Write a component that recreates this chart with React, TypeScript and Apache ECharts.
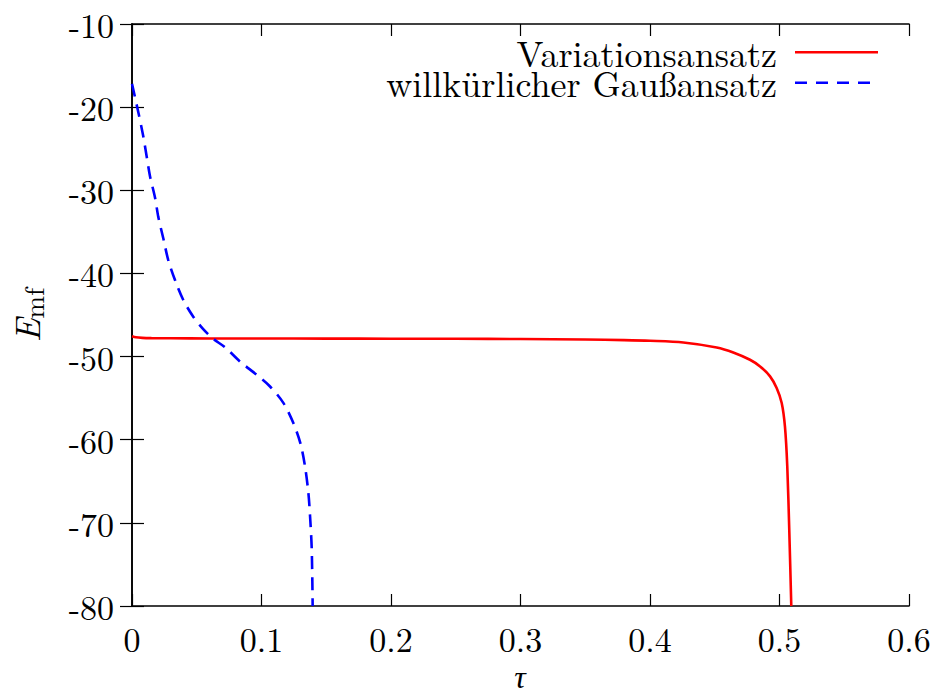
import React, { useEffect, useRef } from "react";
import * as echarts from "echarts";

// Variationsansatz (red, solid)
const tauVar = [0, 0.003, 0.008, 0.015, 0.03, 0.06, 0.1, 0.15, 0.2, 0.25, 0.3, 0.35, 0.38, 0.4, 0.4257, 0.4515, 0.4643, 0.4772, 0.485, 0.4927, 0.4978, 0.5017, 0.5042, 0.506, 0.5076, 0.5091];
const eVar = [-47.55, -47.68, -47.75, -47.78, -47.8, -47.82, -47.83, -47.84, -47.85, -47.86, -47.89, -47.95, -48.02, -48.1, -48.3, -48.9, -49.5, -50.38, -51.18, -52.38, -53.78, -55.58, -58.4, -63.2, -71.2, -80.0];

// willkürlicher Gaußansatz (blue, dashed)
const tauGauss = [0, 0.005, 0.0087, 0.0113, 0.0139, 0.0178, 0.0203, 0.0242, 0.028, 0.0332, 0.0396, 0.0473, 0.055, 0.0627, 0.072, 0.0834, 0.0963, 0.1066, 0.117, 0.1246, 0.13, 0.1336, 0.1362, 0.1375, 0.1388, 0.1395];
const eGauss = [-17.2, -20.7, -23.5, -25.9, -28.3, -30.9, -33.2, -35.8, -38.4, -40.8, -43.2, -45.2, -46.7, -47.86, -48.9, -50.6, -52.2, -53.6, -55.6, -58.0, -60.4, -63.2, -66.4, -69.2, -73.2, -80];

const seriesNames = ["Variationsansatz", "willkürlicher Gaußansatz"];
const xAxisTitle = "τ";
const xMin = 0, xMax = 0.6, xStep = 0.1;
const yMin = -80, yMax = -10, yStep = 10;

const FONT = "'Latin Modern Roman', 'CMU Serif', 'Liberation Serif', serif";

export default function App() {
  const ref = useRef<HTMLDivElement>(null);
  useEffect(() => {
    if (!ref.current) return;
    const chart = echarts.init(ref.current, undefined, { renderer: "svg" });
    const axisLine = { show: true, lineStyle: { color: "#000", width: 1.6 } };
    const tick = { show: true, inside: true, length: 12, lineStyle: { color: "#000", width: 1.2 } };
    const commonX = { type: "value", min: xMin, max: xMax, interval: xStep, splitLine: { show: false }, axisLine, axisTick: tick };
    const commonY = { type: "value", min: yMin, max: yMax, interval: yStep, splitLine: { show: false }, axisLine, axisTick: tick };
    chart.setOption({
      animation: false,
      backgroundColor: "#fff",
      grid: { left: 132, right: 32, top: 24, bottom: 87, containLabel: false, outerBoundsMode: "none" },
      xAxis: [
        {
          ...commonX,
          position: "bottom",
          axisLabel: { show: true, color: "#000", fontFamily: FONT, fontSize: 34, margin: 15, formatter: (v: number) => (Math.round(v * 10) / 10).toString() },
        },
        { ...commonX, position: "top", axisLabel: { show: false } },
      ],
      yAxis: [
        {
          ...commonY,
          position: "left",
          axisLabel: { show: true, color: "#000", fontFamily: FONT, fontSize: 34, margin: 18 },
          name: "{e|E}{s|mf}",
          nameLocation: "middle",
          nameRotate: 90,
          nameGap: 86,
          nameMoveOverlap: false,
          nameTextStyle: {
            rich: {
              e: { fontFamily: FONT, fontSize: 35, fontStyle: "italic", color: "#000" },
              s: { fontFamily: FONT, fontSize: 27, color: "#000", padding: [15, 0, 0, 0] },
            },
          },
        },
        { ...commonY, position: "right", axisLabel: { show: false } },
      ],
      series: [
        {
          name: seriesNames[0],
          type: "line",
          xAxisIndex: 0,
          yAxisIndex: 0,
          data: tauVar.map((t, i) => [t, eVar[i]]),
          showSymbol: false,
          symbol: "none",
          smooth: 0.3,
          lineStyle: { color: "#ff0000", width: 2.6 },
        },
        {
          name: seriesNames[1],
          type: "line",
          xAxisIndex: 0,
          yAxisIndex: 0,
          data: tauGauss.map((t, i) => [t, eGauss[i]]),
          showSymbol: false,
          symbol: "none",
          smooth: 0.3,
          lineStyle: { color: "#0000ff", width: 2.6, type: [13, 8] },
        },
      ],
      graphic: [
        { type: "text", x: 520, y: 664, style: { text: xAxisTitle, font: `italic 32px ${FONT}`, fill: "#000", textAlign: "center", textVerticalAlign: "top", lineHeight: 20 } },
        { type: "text", right: 941 - 777, top: 33, style: { text: seriesNames[0], font: `36px ${FONT}`, fill: "#000", textAlign: "right", lineHeight: 28 } },
        { type: "line", shape: { x1: 795, y1: 52.3, x2: 878, y2: 52.3 }, style: { stroke: "#ff0000", lineWidth: 2.6 } },
        { type: "text", right: 941 - 777, top: 63.5, style: { text: seriesNames[1], font: `36px ${FONT}`, fill: "#000", textAlign: "right", lineHeight: 28 } },
        { type: "line", shape: { x1: 795, y1: 82.7, x2: 878, y2: 82.7 }, style: { stroke: "#0000ff", lineWidth: 2.6, lineDash: [12, 9] } },
      ],
    });
    return () => chart.dispose();
  }, []);
  return <div ref={ref} style={{ position: "fixed", left: 0, top: 0, width: 941, height: 693 }} />;
}
